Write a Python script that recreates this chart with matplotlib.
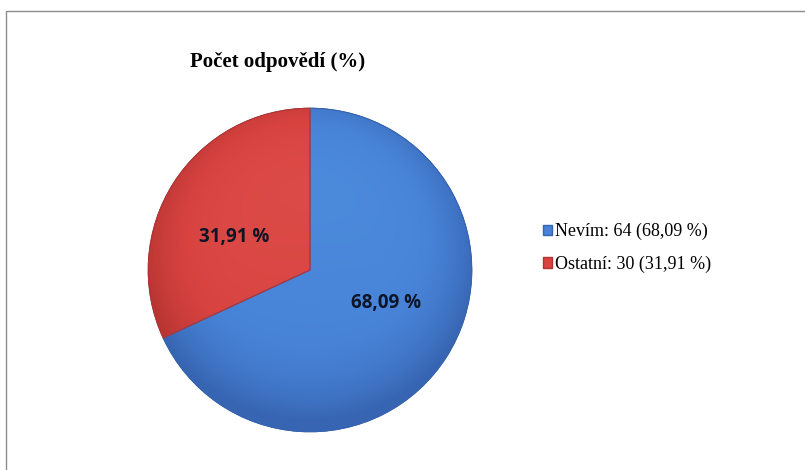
import matplotlib.pyplot as plt
import matplotlib.patches as mpatches
import numpy as np
from matplotlib.colors import LinearSegmentedColormap

labels = ["Nevím", "Ostatní"]
counts = [64, 30]
shares = [68.09, 31.91]
colors = ["#4782d6", "#d84340"]
light = ["#5192e2", "#e0524e"]
dark = ["#3765b2", "#b53431"]

fig = plt.figure(figsize=(8.05, 4.7), dpi=100)
W, H = 805, 470

# outer chart border (Excel chart area)
fig.patches.append(mpatches.Rectangle((6 / W, -0.05), 1.1, (H - 11) / H + 0.05,
                                      transform=fig.transFigure, fill=False,
                                      edgecolor="#8c8c8c", linewidth=1.0))

fig.text(278 / W, 1 - 62 / H, "Počet odpovědí (%)", ha="center", va="center",
         fontsize=15, fontweight="bold", family="Liberation Serif")

ax = fig.add_axes([145 / W, 1 - 435 / H, 330 / W, 330 / H])
wedges, _ = ax.pie(shares, colors=colors, startangle=90, counterclock=False,
                   wedgeprops=dict(edgecolor="#2d4a7a", linewidth=0.6))
ax.set_xlim(-1.02, 1.02)
ax.set_ylim(-1.02, 1.02)
ax.set_aspect("equal")
ax.axis("off")

# gradient shading inside each wedge: lighter in the middle, darker at the rim
yy, xx = np.mgrid[-1:1:300j, -1:1:300j]
rr = np.sqrt(xx ** 2 + yy ** 2)
shade = np.clip(0.35 + 0.25 * yy + 0.55 * rr ** 4, 0, 1)
for w, c0, c1, c2 in zip(wedges, light, colors, dark):
    cmap = LinearSegmentedColormap.from_list("g", [c0, c1, c2])
    im = ax.imshow(shade, cmap=cmap, extent=[-1, 1, -1, 1], origin="upper",
                   vmin=0, vmax=1, zorder=w.get_zorder() + 0.1)
    im.set_clip_path(w)
    edge = mpatches.Wedge(w.center, w.r, w.theta1, w.theta2, fill=False,
                          edgecolor=c2, linewidth=0.8, zorder=w.get_zorder() + 0.2)
    ax.add_patch(edge)

for w, s in zip(wedges, shares):
    ang = np.deg2rad((w.theta1 + w.theta2) / 2 + 9)
    r = 0.51
    ax.text(r * np.cos(ang), r * np.sin(ang), f"{s:.2f} %".replace(".", ","),
            ha="center", va="center", fontsize=13.5, fontweight="bold",
            family="Open Sans", color="#0d1526", zorder=5)

handles = [mpatches.Patch(facecolor=c, edgecolor=d) for c, d in zip(colors, dark)]
leg_labels = [f"{l}: {n} ({s:.2f} %)".replace(".", ",") for l, n, s in zip(labels, counts, shares)]
fig.legend(handles, leg_labels, loc="center left", bbox_to_anchor=(543 / W, 1 - 248 / H),
           frameon=False, prop={"family": "Liberation Serif", "size": 13},
           handlelength=0.5, handleheight=0.5, handletextpad=0.15, labelspacing=0.85,
           borderaxespad=0, borderpad=0)

fig.savefig("out.png", dpi=100)
